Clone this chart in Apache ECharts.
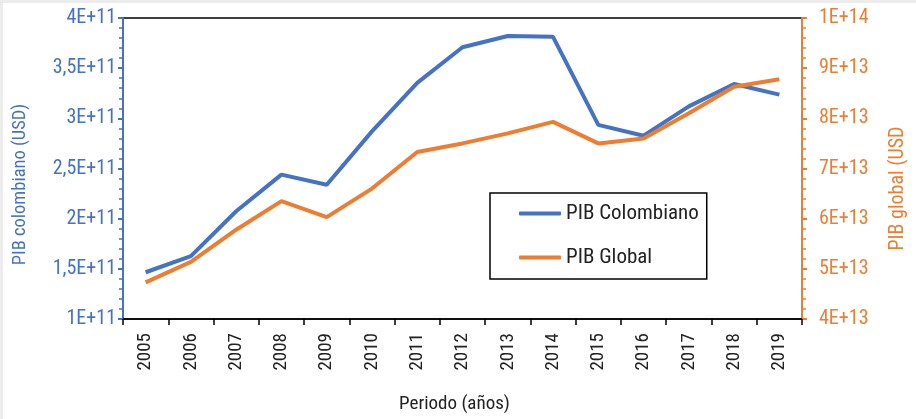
<!DOCTYPE html>
<html>
<head>
<meta charset="utf-8">
<script src="https://cdn.jsdelivr.net/npm/echarts@6/dist/echarts.min.js"></script>
<style>
  html, body { margin: 0; padding: 0; background: #ececec; }
  #chart { position: absolute; left: 3px; top: 3px; width: 913px; height: 416px; background: #fff; }
</style>
</head>
<body>
<div id="chart"></div>
<script>
// datos
let years = ['2005','2006','2007','2008','2009','2010','2011','2012','2013','2014','2015','2016','2017','2018','2019'];
let pibColombia = [1.466e11, 1.626e11, 2.074e11, 2.439e11, 2.338e11, 2.870e11, 3.354e11, 3.709e11, 3.821e11, 3.812e11, 2.935e11, 2.827e11, 3.119e11, 3.342e11, 3.236e11];
let pibGlobal = [4.73e13, 5.14e13, 5.78e13, 6.35e13, 6.03e13, 6.60e13, 7.33e13, 7.50e13, 7.70e13, 7.93e13, 7.50e13, 7.60e13, 8.10e13, 8.63e13, 8.78e13];

let azul = '#4472C4';
let naranja = '#ED7D31';
let fuente = "'Roboto Condensed', 'Liberation Sans Narrow', Roboto, sans-serif";

// formato tipo excel: 1,5E+11
function sci(v) {
	let e = Math.floor(Math.log10(v) + 1e-9);
	let m = Math.round(v / Math.pow(10, e) * 10) / 10;
	return String(m).replace('.', ',') + 'E+' + e;
}

let chart = echarts.init(document.getElementById('chart'));

let option = {
	textStyle: { fontFamily: fuente },
	grid: {
		left: 116, right: 107, top: 15, bottom: 97,
		show: true, borderColor: '#000', borderWidth: 1.5
	},
	legend: {
		left: 487, top: 190,
		orient: 'vertical',
		itemWidth: 42, itemHeight: 4, icon: 'roundRect',
		itemGap: 23,
		padding: [10, 8, 11, 29],
		borderColor: '#000', borderWidth: 1.5,
		textStyle: { fontSize: 21, color: '#222', fontFamily: fuente },
		data: ['PIB Colombiano', 'PIB Global']
	},
	xAxis: {
		type: 'category',
		data: years,
		boundaryGap: true,
		name: 'Periodo (años)',
		nameLocation: 'middle',
		nameGap: 76,
		nameTextStyle: { fontSize: 19, color: '#222', padding: [0, 16, 0, 0] },
		axisLine: { lineStyle: { color: '#000', width: 1.5 } },
		axisTick: { show: true, length: 6, lineStyle: { color: '#000', width: 1.5 } },
		axisLabel: { rotate: 90, fontSize: 19, color: '#222', margin: 14 }
	},
	yAxis: [{
		type: 'value',
		min: 1e11, max: 4e11, interval: 0.5e11,
		position: 'left',
		name: 'PIB colombiano (USD)',
		nameLocation: 'middle',
		nameGap: 93,
		nameTextStyle: { fontSize: 18.5, color: azul, padding: [0, 32, 0, 0] },
		axisLine: { show: true, lineStyle: { color: azul, width: 2 } },
		axisTick: { show: true, length: 5, lineStyle: { color: azul, width: 2 } },
		minorTick: { show: true, splitNumber: 5, length: 4, lineStyle: { color: azul, width: 1.5 } },
		splitLine: { show: false },
		axisLabel: { fontSize: 20, color: azul, formatter: sci, margin: 7 }
	}, {
		type: 'value',
		min: 4e13, max: 1e14, interval: 1e13,
		position: 'right',
		name: 'PIB global (USD',
		nameLocation: 'middle',
		nameGap: 86,
		nameRotate: 90,
		nameTextStyle: { fontSize: 20, color: naranja, padding: [0, 40, 0, 0] },
		axisLine: { show: true, lineStyle: { color: naranja, width: 2 } },
		axisTick: { show: true, length: 5, lineStyle: { color: naranja, width: 2 } },
		minorTick: { show: true, splitNumber: 5, length: 4, lineStyle: { color: naranja, width: 1.5 } },
		splitLine: { show: false },
		axisLabel: { fontSize: 20, color: naranja, formatter: sci, margin: 17 }
	}],
	series: [{
		name: 'PIB Colombiano',
		type: 'line',
		yAxisIndex: 0,
		data: pibColombia,
		showSymbol: false,
		color: azul,
		lineStyle: { width: 4, color: azul }
	}, {
		name: 'PIB Global',
		type: 'line',
		yAxisIndex: 1,
		data: pibGlobal,
		showSymbol: false,
		color: naranja,
		lineStyle: { width: 4, color: naranja }
	}]
};

chart.setOption(option);
</script>
</body>
</html>
